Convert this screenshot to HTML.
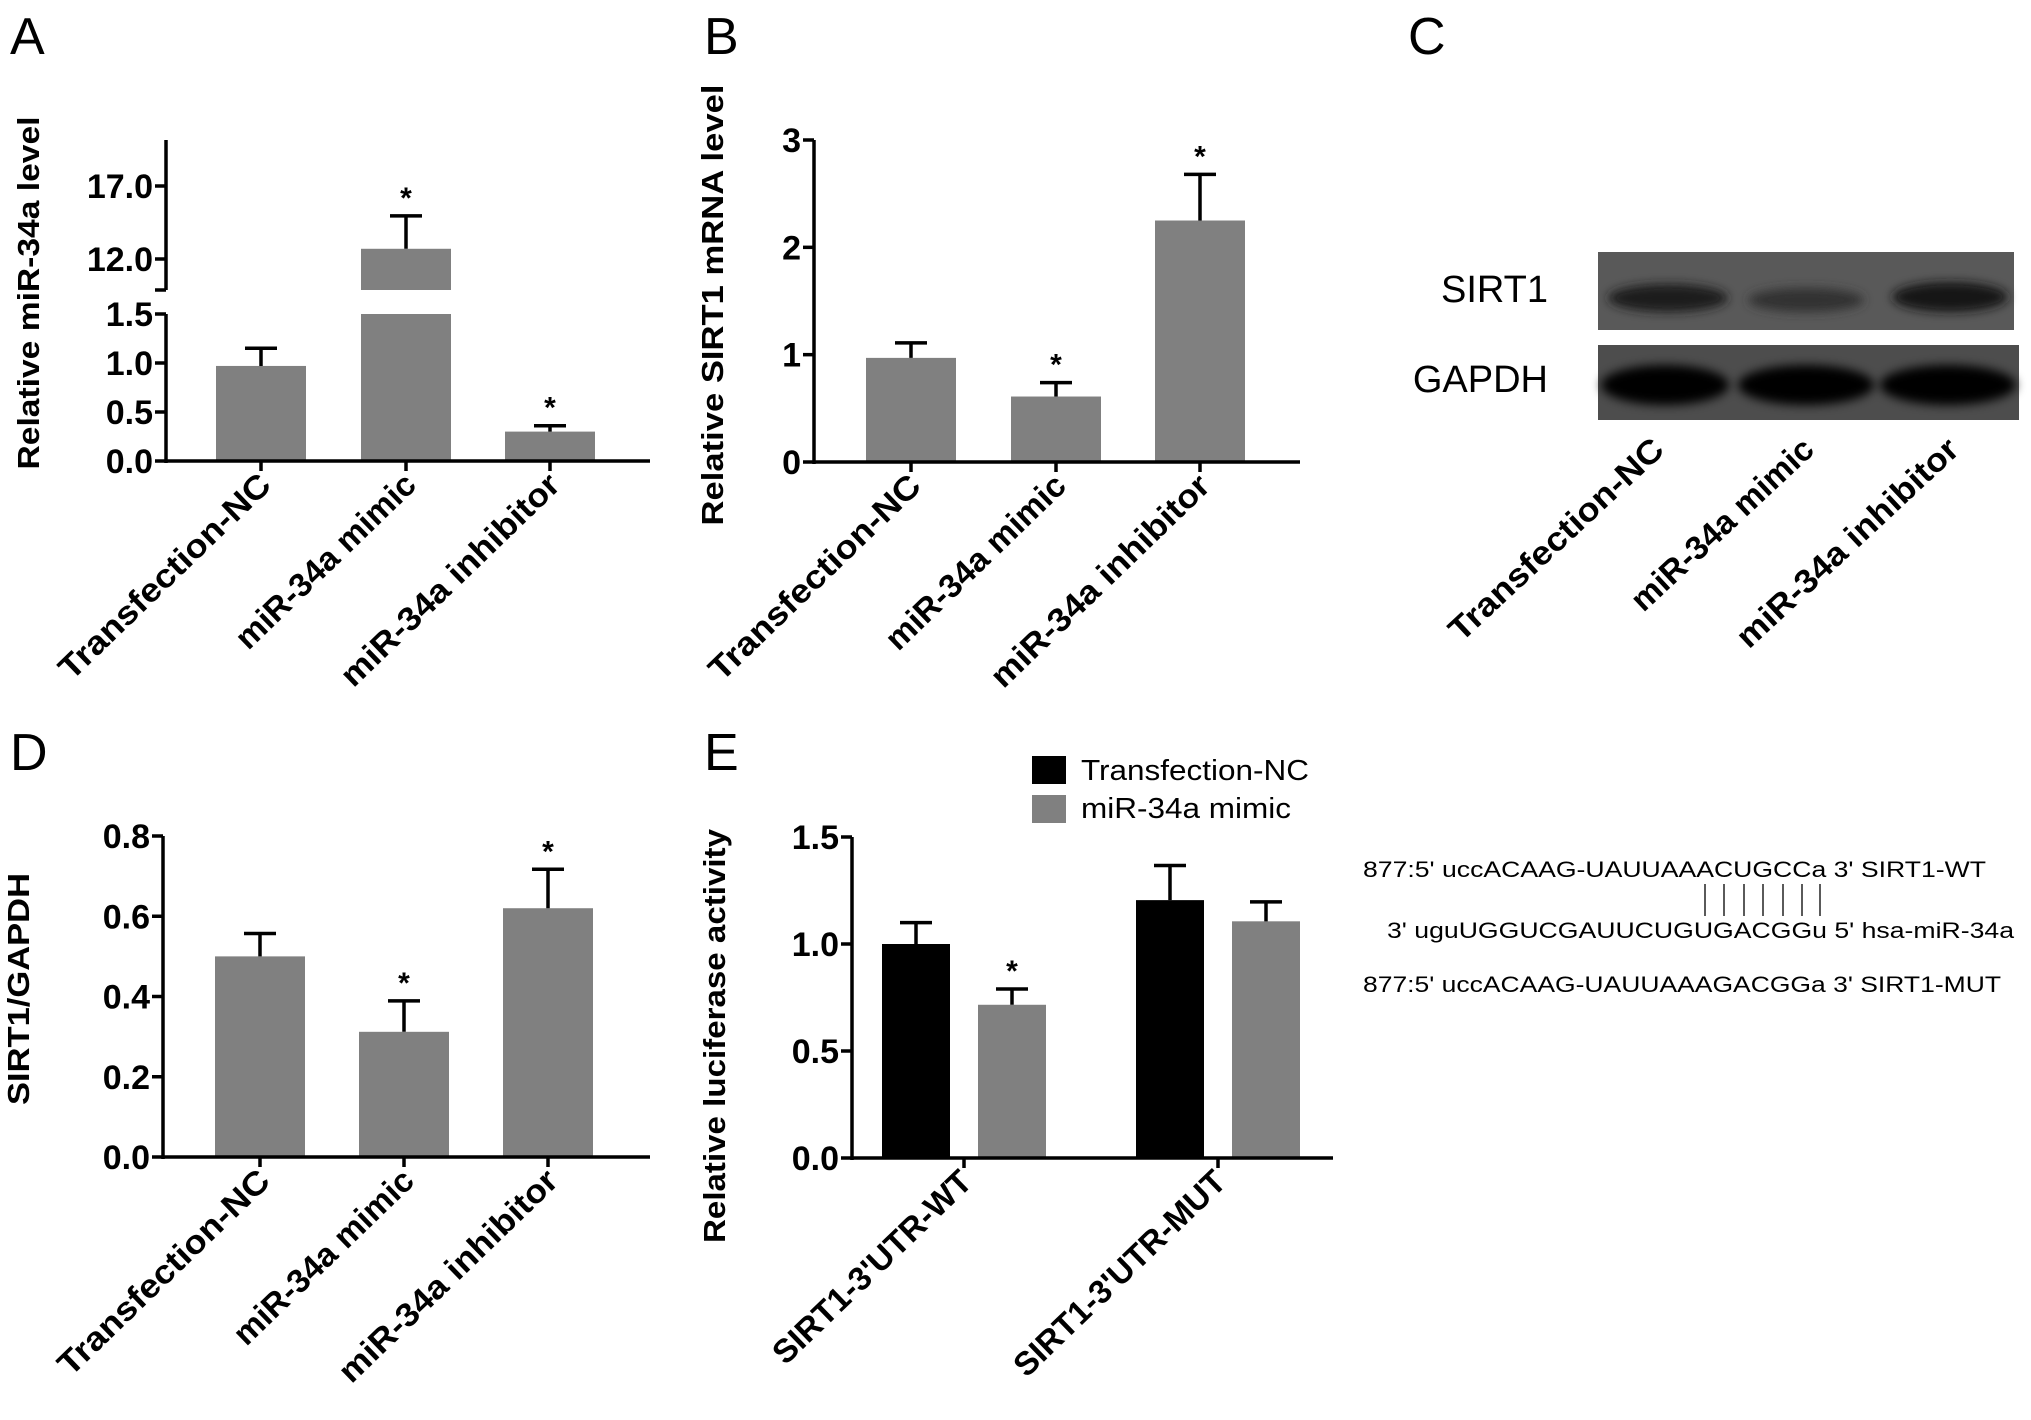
<!DOCTYPE html>
<html><head><meta charset="utf-8">
<style>
html,body{margin:0;padding:0;background:#fff;}
svg{display:block;font-family:"Liberation Sans",Arial,sans-serif;}
</style></head>
<body>
<svg id="fig" width="2031" height="1420" viewBox="0 0 2031 1420" xmlns="http://www.w3.org/2000/svg">
<rect width="2031" height="1420" fill="#fff"/>
<g font-size="52" fill="#000">
<text x="10" y="54">A</text>
<text x="704" y="54">B</text>
<text x="1408" y="54">C</text>
<text x="10" y="770">D</text>
<text x="704" y="770">E</text>
</g>

<!-- Panel C western blot -->
<g>
<defs>
<filter id="blur4" x="-20%" y="-50%" width="140%" height="200%"><feGaussianBlur stdDeviation="5"/></filter>
</defs>
<rect x="1598" y="252" width="416" height="78" fill="#595959"/>
<g filter="url(#blur4)">
<ellipse cx="1668" cy="298" rx="60" ry="14" fill="#1e1e1e"/>
<ellipse cx="1806" cy="300" rx="58" ry="12" fill="#333"/>
<ellipse cx="1950" cy="297" rx="58" ry="15" fill="#151515"/>
</g>
<rect x="1598" y="345" width="421" height="75" fill="#4d4d4d"/>
<g filter="url(#blur4)">
<ellipse cx="1665" cy="385" rx="64" ry="20" fill="#000"/>
<ellipse cx="1806" cy="385" rx="68" ry="20" fill="#000"/>
<ellipse cx="1948" cy="385" rx="68" ry="20" fill="#000"/>
</g>
<text x="1548" y="302" font-size="38" text-anchor="end">SIRT1</text>
<text x="1548" y="392" font-size="38" text-anchor="end">GAPDH</text>
<g font-size="33" font-weight="bold" text-anchor="end">
<text transform="translate(1666,452) rotate(-43)" textLength="280" lengthAdjust="spacingAndGlyphs">Transfection-NC</text>
<text transform="translate(1816,452) rotate(-43)" textLength="236" lengthAdjust="spacingAndGlyphs">miR-34a mimic</text>
<text transform="translate(1961,452) rotate(-43)" textLength="290" lengthAdjust="spacingAndGlyphs">miR-34a inhibitor</text>
</g>
</g>

<!-- Sequence alignment -->
<g font-size="22">
<text x="1363" y="877" textLength="623" lengthAdjust="spacingAndGlyphs">877:5' uccACAAG-UAUUAAACUGCCa 3' SIRT1-WT</text>
<text x="1387" y="938" textLength="627" lengthAdjust="spacingAndGlyphs">3' uguUGGUCGAUUCUGUGACGGu 5' hsa-miR-34a</text>
<text x="1363" y="992" textLength="638" lengthAdjust="spacingAndGlyphs">877:5' uccACAAG-UAUUAAAGACGGa 3' SIRT1-MUT</text>
<g stroke="#222" stroke-width="1.5">
<line x1="1705" y1="884" x2="1705" y2="916"/><line x1="1724" y1="884" x2="1724" y2="916"/>
<line x1="1744" y1="884" x2="1744" y2="916"/><line x1="1763" y1="884" x2="1763" y2="916"/>
<line x1="1783" y1="884" x2="1783" y2="916"/><line x1="1802" y1="884" x2="1802" y2="916"/>
<line x1="1820" y1="884" x2="1820" y2="916"/>
</g>
</g>

<!-- Legend E -->
<g>
<rect x="1032" y="756" width="34" height="28" fill="#000"/>
<text x="1081" y="780" font-size="29" textLength="228" lengthAdjust="spacingAndGlyphs">Transfection-NC</text>
<rect x="1032" y="795" width="34" height="28" fill="#808080"/>
<text x="1081" y="818" font-size="29" textLength="210" lengthAdjust="spacingAndGlyphs">miR-34a mimic</text>
</g>
<g id="charts"></g>
</svg>
<script>
// Panel A data
const catsABD = ["Transfection-NC", "miR-34a mimic", "miR-34a inhibitor"];
const valuesA = [0.97, 12.7, 0.30];
const errorsA = [1.15, 14.95, 0.36];
const starsA = [false, true, true];
const ticksALow = ["0.0", "0.5", "1.0", "1.5"];
const ticksAHigh = ["12.0", "17.0"];
// Panel B data
const valuesB = [0.97, 0.61, 2.25];
const errorsB = [1.11, 0.74, 2.68];
const starsB = [false, true, true];
const ticksB = ["0", "1", "2", "3"];
// Panel D data
const valuesD = [0.50, 0.312, 0.62];
const errorsD = [0.557, 0.389, 0.717];
const starsD = [false, true, true];
const ticksD = ["0.0", "0.2", "0.4", "0.6", "0.8"];
// Panel E data
const groupsE = ["SIRT1-3'UTR-WT", "SIRT1-3'UTR-MUT"];
const seriesE = ["Transfection-NC", "miR-34a mimic"];
const valuesENC = [1.0, 1.205];
const errorsENC = [1.10, 1.367];
const valuesEMimic = [0.716, 1.106];
const errorsEMimic = [0.79, 1.197];
const starsEMimic = [true, false];
const ticksE = ["0.0", "0.5", "1.0", "1.5"];

const NS = "http://www.w3.org/2000/svg";
const root = document.getElementById("charts");
function mk(tag, attrs, parent, txt) {
  const e = document.createElementNS(NS, tag);
  for (const k in attrs) e.setAttribute(k, attrs[k]);
  if (txt !== undefined) e.textContent = txt;
  (parent || root).appendChild(e);
  return e;
}
function linear(d0, d1, r0, r1) { return v => r0 + (v - d0) * (r1 - r0) / (d1 - d0); }

function drawBar(g, x, w, y0, y1, fill, name) {
  const r = mk("rect", {x: x, y: Math.min(y0, y1), width: w, height: Math.abs(y0 - y1), fill: fill}, g);
  
  
}
function drawErr(g, cx, yTop, yErr, name) {
  const l = mk("path", {d: `M${cx},${yTop} V${yErr} M${cx-16},${yErr} H${cx+16}`, stroke: "#000", "stroke-width": 3.5, fill: "none"}, g);
  
  
}
function drawStar(g, cx, y, name) {
  const t = mk("text", {x: cx, y: y, "text-anchor": "middle", "font-size": 30, "font-weight": "bold"}, g, "*");
  
  
}
function yTicks(g, ax, scale, labels, name) {
  labels.forEach(lb => {
    const y = scale(parseFloat(lb));
    mk("line", {x1: ax - 11, y1: y, x2: ax, y2: y, stroke: "#000", "stroke-width": 3.5}, g);
    const t = mk("text", {x: ax - 13, y: y + 12, "text-anchor": "end", "font-size": 34, "font-weight": "bold"}, g, lb);
    
    
  });
}
function xLabel(g, tx, axY, label, len, name) {
  const t = mk("text", {transform: `translate(${tx + 12},${axY + 26}) rotate(-44)`, "text-anchor": "end", "font-size": 33, "font-weight": "bold", textLength: len, lengthAdjust: "spacingAndGlyphs"}, g, label);
  
  
}
function yTitle(g, cx, cy, text, len, name) {
  const t = mk("text", {transform: `translate(${cx + 11},${cy}) rotate(-90)`, "text-anchor": "middle", "font-size": 31, "font-weight": "bold", textLength: len, lengthAdjust: "spacingAndGlyphs"}, g, text);
  
  
}
const labelLens = [280, 236, 290];
const barX0 = [216, 361, 505];
const barW = 90;

// ---------- Panel A (broken axis) ----------
(function () {
  const g = mk("g", {});
  
  
  const ax = 166, axY = 461;
  const yLow = linear(0, 1.5, 461, 314);
  const yHigh = linear(12, 17, 259, 186);
  const breakBottom = 290, highTop = 140;
  const highMin = 12 - (breakBottom - 259) / ((259 - 186) / 5);
  catsABD.forEach((c, i) => {
    const x = barX0[i], cx = x + barW / 2, v = valuesA[i], e = errorsA[i];
    if (v <= 1.5) {
      drawBar(g, x, barW, axY, yLow(v), "#808080", "bar-a-" + i);
      drawErr(g, cx, yLow(v), yLow(e), "error-bar-a-" + i);
      if (starsA[i]) drawStar(g, cx, yLow(e) - 8, "significance-star-a-" + i);
    } else {
      drawBar(g, x, barW, axY, yLow(1.5), "#808080", "bar-a-" + i + "-lower");
      drawBar(g, x, barW, breakBottom, yHigh(Math.max(v, highMin)), "#808080", "bar-a-" + i + "-upper");
      drawErr(g, cx, yHigh(v), yHigh(e), "error-bar-a-" + i);
      if (starsA[i]) drawStar(g, cx, yHigh(e) - 8, "significance-star-a-" + i);
    }
    mk("line", {x1: cx, y1: axY, x2: cx, y2: axY + 10, stroke: "#000", "stroke-width": 3.5}, g);
    xLabel(g, cx, axY, c, labelLens[i], "x-label-a-" + i);
  });
  mk("line", {x1: ax, y1: yLow(1.5), x2: ax, y2: axY + 2, stroke: "#000", "stroke-width": 3.5}, g);
  mk("line", {x1: ax, y1: highTop, x2: ax, y2: breakBottom, stroke: "#000", "stroke-width": 3.5}, g);
  mk("line", {x1: ax - 11, y1: breakBottom, x2: ax, y2: breakBottom, stroke: "#000", "stroke-width": 3.5}, g);
  mk("line", {x1: ax, y1: axY, x2: 650, y2: axY, stroke: "#000", "stroke-width": 3.5}, g);
  yTicks(g, ax, yLow, ticksALow, "y-axis-a-low");
  yTicks(g, ax, yHigh, ticksAHigh, "y-axis-a-high");
  yTitle(g, 28, 293, "Relative miR-34a level", 353, "y-axis-title-a");
})();

// ---------- simple panels B & D ----------
function simplePanel(cfg) {
  const g = mk("g", {});
  
  
  const y = linear(0, cfg.max, cfg.y0, cfg.yMax);
  catsABD.forEach((c, i) => {
    const x = cfg.xs[i], cx = x + barW / 2;
    drawBar(g, x, barW, cfg.y0, y(cfg.vals[i]), "#808080", cfg.id + "-bar-" + i);
    drawErr(g, cx, y(cfg.vals[i]), y(cfg.errs[i]), cfg.id + "-error-bar-" + i);
    if (cfg.stars[i]) drawStar(g, cx, y(cfg.errs[i]) - 8, cfg.id + "-significance-star-" + i);
    mk("line", {x1: cx, y1: cfg.y0, x2: cx, y2: cfg.y0 + 10, stroke: "#000", "stroke-width": 3.5}, g);
    xLabel(g, cx, cfg.y0, c, labelLens[i], cfg.id + "-x-label-" + i);
  });
  mk("line", {x1: cfg.ax, y1: cfg.yMax, x2: cfg.ax, y2: cfg.y0 + 2, stroke: "#000", "stroke-width": 3.5}, g);
  mk("line", {x1: cfg.ax, y1: cfg.y0, x2: cfg.xEnd, y2: cfg.y0, stroke: "#000", "stroke-width": 3.5}, g);
  yTicks(g, cfg.ax, y, cfg.ticks, cfg.id + "-y-axis");
  yTitle(g, cfg.tx, cfg.ty, cfg.title, cfg.tlen, cfg.id + "-y-axis-title");
}
simplePanel({name: "panel-b-chart", id: "b", ax: 814, y0: 462, yMax: 140, max: 3, xs: [866, 1011, 1155], xEnd: 1300,
  vals: valuesB, errs: errorsB, stars: starsB, ticks: ticksB, tx: 712, ty: 305, title: "Relative SIRT1 mRNA level", tlen: 441});
simplePanel({name: "panel-d-chart", id: "d", ax: 163, y0: 1157, yMax: 836, max: 0.8, xs: [215, 359, 503], xEnd: 650,
  vals: valuesD, errs: errorsD, stars: starsD, ticks: ticksD, tx: 18, ty: 989, title: "SIRT1/GAPDH", tlen: 232});

// ---------- Panel E grouped ----------
(function () {
  const g = mk("g", {});
  
  
  const ax = 852, y0 = 1158;
  const y = linear(0, 1.5, 1158, 837);
  const groupCenters = [964, 1218];
  const w = 68, gap = 28;
  const eLens = [262, 280];
  groupsE.forEach((grp, i) => {
    const gc = groupCenters[i];
    const xNC = gc - gap / 2 - w, xM = gc + gap / 2;
    drawBar(g, xNC, w, y0, y(valuesENC[i]), "#000", "bar-e-nc-" + i);
    drawErr(g, xNC + w / 2, y(valuesENC[i]), y(errorsENC[i]), "error-bar-e-nc-" + i);
    drawBar(g, xM, w, y0, y(valuesEMimic[i]), "#808080", "bar-e-mimic-" + i);
    drawErr(g, xM + w / 2, y(valuesEMimic[i]), y(errorsEMimic[i]), "error-bar-e-mimic-" + i);
    if (starsEMimic[i]) drawStar(g, xM + w / 2, y(errorsEMimic[i]) - 8, "significance-star-e-" + i);
    mk("line", {x1: gc, y1: y0, x2: gc, y2: y0 + 10, stroke: "#000", "stroke-width": 3.5}, g);
    xLabel(g, gc - 2, y0, grp, eLens[i], "x-label-e-" + i);
  });
  mk("line", {x1: ax, y1: 837, x2: ax, y2: y0 + 2, stroke: "#000", "stroke-width": 3.5}, g);
  mk("line", {x1: ax, y1: y0, x2: 1333, y2: y0, stroke: "#000", "stroke-width": 3.5}, g);
  yTicks(g, ax, y, ticksE, "e-y-axis");
  yTitle(g, 714, 1036, "Relative luciferase activity", 414, "e-y-axis-title");
})();
</script>
</body></html>
